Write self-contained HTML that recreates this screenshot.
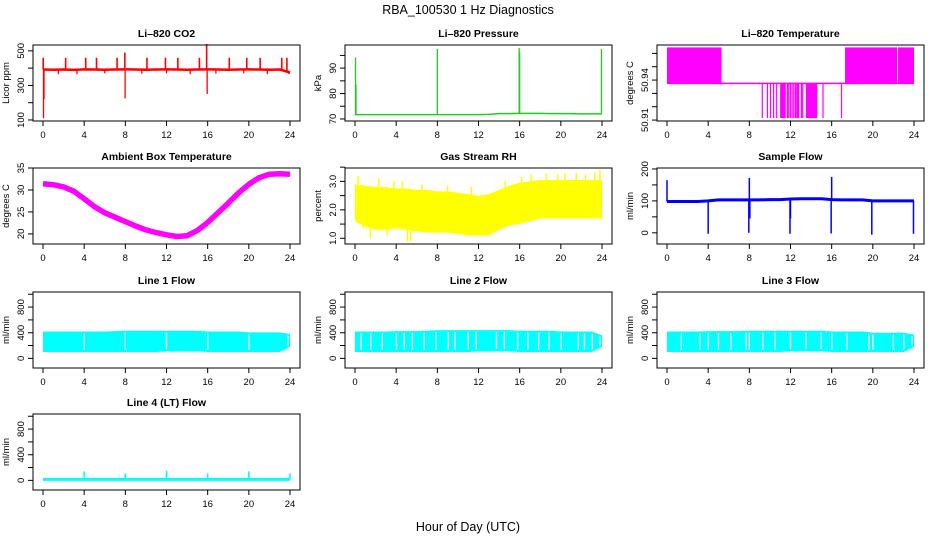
<!DOCTYPE html>
<html><head><meta charset="utf-8"><style>
html,body{margin:0;padding:0;background:#fff;}
svg{display:block;font-family:"Liberation Sans",Arial,sans-serif;}
</style></head><body>
<svg id="chart" width="936" height="540" viewBox="0 0 936 540" xmlns="http://www.w3.org/2000/svg">
<text x="468" y="14" text-anchor="middle" font-size="12.5">RBA_100530  1 Hz Diagnostics</text>
<text x="468" y="531" text-anchor="middle" font-size="12.5">Hour of Day (UTC)</text>
</svg>
<script>
const hours=[0,1,2,3,4,5,6,7,8,9,10,11,12,13,14,15,16,17,18,19,20,21,22,23,24];
const xTicks=[0,4,8,12,16,20,24];
// CO2
const co2Base=[392,391,392,390,393,392,391,392,393,392,391,392,393,392,391,392,393,392,391,392,393,392,391,392,375];
const co2SpikeHours=[0.02,2.2,4.15,5.2,7.2,7.95,10.1,11.9,13.1,15.2,15.9,18.1,19.8,21.1,23.2,23.7];
const co2SpikeTops=[460,460,460,460,460,490,460,460,460,460,540,460,460,460,460,460];
const co2DipHours=[0.05,0.1,7.98,15.95,1.5,3.3,6.0,9.6,12.0,14.3,16.8,19.5,21.8,23.9];
const co2DipBottoms=[110,220,225,250,365,365,370,368,370,365,368,370,365,365];
// Pressure
const pressBase=[71.7,71.7,71.7,71.7,71.7,71.7,71.7,71.7,71.7,71.7,71.7,71.7,71.7,71.8,72.1,72.1,72.2,72.2,72.2,72.1,72.1,72.1,72.0,72.0,72.0];
const pressSpikeHours=[0.05,0.1,8.0,15.95,16.0,23.95];
const pressSpikeTops=[94.2,83.5,97.5,98.0,96.5,97.5];
// Li-820 temperature
const tempHigh=50.9645, tempMid=50.9375, tempLow=50.9115;
const tempBlockStart=[0,17.3,22.45];
const tempBlockEnd=[5.3,22.35,24];
const tempDipStart=[9.2,9.7,10.0,10.3,10.6,10.99,11.64,11.77,11.93,12.1,12.26,12.42,12.55,13.0,13.13,13.49,15.1,16.9];
const tempDipEnd=[9.25,9.75,10.05,10.35,10.65,11.54,11.69,11.82,11.98,12.15,12.31,12.47,12.84,13.05,13.18,14.6,15.2,16.95];
// Ambient box temperature
const ambTemp=[31.4,31.2,30.7,29.7,28.0,26.2,24.8,23.8,22.8,21.8,20.9,20.3,19.8,19.4,19.6,20.8,22.6,24.8,27.0,29.3,31.3,32.8,33.6,33.7,33.6];
// Gas stream RH
const rhUpper=[2.9,2.85,2.8,2.8,2.75,2.75,2.7,2.7,2.65,2.65,2.6,2.55,2.5,2.55,2.7,2.85,2.95,3.0,3.05,3.05,3.05,3.05,3.05,3.05,3.05];
const rhLower=[1.6,1.4,1.3,1.3,1.35,1.3,1.25,1.2,1.2,1.2,1.15,1.1,1.1,1.1,1.3,1.45,1.5,1.6,1.7,1.7,1.7,1.7,1.7,1.7,1.7];
const rhSpikeHours=[0.3,0.8,1.5,2.3,3.1,3.8,4.6,5.1,5.4,6.5,9.0,11.3,14.6,16.2,17.1,18.6,19.7,20.4,21.5,22.4,23.3,23.8];
const rhSpikeVals=[3.2,1.35,1.0,3.1,1.1,3.0,3.0,0.9,0.9,2.9,2.85,2.8,3.0,3.15,3.25,3.3,3.25,3.3,3.3,3.25,3.3,3.4];
// Sample flow
const flowBase=[98,98,98,98,100,103,103,103,103,103,104,104,106,107,107,107,104,103,103,103,100,100,100,100,100];
const flowDipHours=[4.0,7.95,8.05,11.95,12.0,15.95,19.9,23.95];
const flowDipVals=[-3,0,45,-3,45,-2,-6,-3];
const flowSpikeHours=[0.0,8.0,16.0];
const flowSpikeVals=[165,172,175];
// Line flows
const line1Upper=[420,420,420,420,420,420,420,425,430,430,430,430,430,430,430,430,420,420,420,420,405,405,405,405,380];
const line2Upper=[420,420,420,420,425,425,425,430,440,440,440,440,440,440,440,440,430,430,430,430,420,420,420,420,360];
const line3Upper=[420,420,420,420,425,425,425,425,430,430,430,430,430,430,430,430,420,420,420,420,400,400,400,400,370];
const lineLower=[100,100,100,100,100,100,100,100,100,100,100,100,110,110,110,110,100,100,100,100,100,100,100,100,180];
const line1Gaps=[4.0,8.0,12.0,16.0,20.0,23.8];
const line2Gaps=[0.58,1.52,2.65,4.03,4.78,5.58,6.72,7.85,9.07,9.72,11.0,11.78,13.75,14.52,15.8,16.78,17.84,18.84,20.04,21.7,22.3,23.07,23.8];
const line3Gaps=[1.4,3.2,4.0,5.0,6.2,7.7,8.0,9.3,10.5,12.0,13.5,15.0,16.0,17.5,19.6,20.0,22.0,23.0,23.8];
const line4Base=[15,15,15,15,15,15,15,15,15,15,15,15,15,15,15,15,15,15,15,15,15,15,15,15,15];
const line4SpikeHours=[4.0,8.0,12.0,16.0,20.0,24.0];
const line4SpikeVals=[140,110,150,110,140,110];

const NS="http://www.w3.org/2000/svg";
const svg=document.getElementById('chart');
const colL=[33,345,657], rowT=[45,168,292,414], W=267, H=76;
function mk(tag,attrs,parent){const e=document.createElementNS(NS,tag);for(const k in attrs)e.setAttribute(k,attrs[k]);(parent||svg).appendChild(e);return e;}

function panel(col,row,title,ylab,lo,hi,yticks,ylabels,name){
  const L=colL[col],T=rowT[row],B=T+H,R=L+W;
  const g=mk('g',{});
  
  
  const x=h=>L+10+h*(W-20)/24;
  const y=v=>B-(v-lo)/(hi-lo)*H;
  const t=mk('text',{x:(L+R)/2,y:T-8,'text-anchor':'middle','font-size':10.5,'font-weight':'bold'},g);
  t.textContent=title;
  
  
  const yl=mk('text',{x:0,y:0,'text-anchor':'middle','font-size':9.5,transform:`translate(${L-24},${(T+B)/2}) rotate(-90)`},g);
  yl.textContent=ylab;
  
  
  const xa=mk('g',{},g);
  
  
  mk('line',{x1:x(0),x2:x(24),y1:B,y2:B,stroke:'#000'},xa);
  xTicks.forEach(h=>{
    mk('line',{x1:x(h),x2:x(h),y1:B,y2:B+5,stroke:'#000'},xa);
    const tl=mk('text',{x:x(h),y:B+17,'text-anchor':'middle','font-size':9.5},xa);
    tl.textContent=h;
    
    
  });
  const ya=mk('g',{},g);
  
  
  mk('line',{x1:L,x2:L,y1:y(yticks[0]),y2:y(yticks[yticks.length-1]),stroke:'#000'},ya);
  yticks.forEach(v=>{mk('line',{x1:L-5,x2:L,y1:y(v),y2:y(v),stroke:'#000'},ya);});
  ylabels.forEach(v=>{
    const tl=mk('text',{x:0,y:0,'text-anchor':'middle','font-size':9.5,transform:`translate(${L-9},${y(+v)}) rotate(-90)`},ya);
    tl.textContent=v;
    
    
  });
  const d=mk('g',{},g);
  
  
  const box=mk('rect',{x:L,y:T,width:W,height:H,fill:'none',stroke:'#000'},g);
  
  
  return {x,y,d};
}
function poly(p,xs,ys,col,sw,name){
  const pts=xs.map((h,i)=>p.x(h).toFixed(1)+','+p.y(ys[i]).toFixed(1)).join(' ');
  const e=mk('polyline',{points:pts,fill:'none',stroke:col,'stroke-width':sw,'stroke-linejoin':'round'},p.d);
  
  
}
function vlines(p,hs,from,to,col,sw,name){
  hs.forEach((h,i)=>{
    const a=Array.isArray(from)?from[i]:from, b=Array.isArray(to)?to[i]:to;
    const e=mk('line',{x1:p.x(h),x2:p.x(h),y1:p.y(a),y2:p.y(b),stroke:col,'stroke-width':sw},p.d);
    
    
  });
}
function baseAt(arr,h){const i=Math.min(23,Math.floor(h));const f=h-i;return arr[i]*(1-f)+arr[i+1]*f;}

// CO2
let p=panel(0,0,'Li\u2013820 CO2','Licor ppm',94,534,[100,200,300,400,500],['100','300','500'],'co2');
poly(p,hours,co2Base,'#ff0000',2.5,'co2-line');
vlines(p,co2SpikeHours,co2SpikeHours.map(h=>baseAt(co2Base,h)),co2SpikeTops,'#ff0000',1.6,'co2-spike');
vlines(p,co2DipHours,co2DipHours.map(h=>baseAt(co2Base,h)),co2DipBottoms,'#ff0000',1.3,'co2-dip');

// Pressure
p=panel(1,0,'Li\u2013820 Pressure','kPa',69.2,99.1,[70,75,80,85,90,95],['70','80','90'],'pressure');
poly(p,hours,pressBase,'#22cc22',1.5,'pressure-line');
vlines(p,pressSpikeHours,pressSpikeHours.map(h=>baseAt(pressBase,h)),pressSpikeTops,'#22cc22',1.3,'pressure-spike');

// Li-820 temperature
p=panel(2,0,'Li\u2013820 Temperature','degrees C',50.9093,50.9663,[50.91,50.92,50.93,50.94,50.95,50.96],['50.91','50.94'],'li820-temp');
poly(p,[0,24],[tempMid,tempMid],'#ff00ff',1.5,'li820-temp-mid-line');
tempBlockStart.forEach((s,i)=>{
  const e=mk('rect',{x:p.x(s),y:p.y(tempHigh),width:p.x(tempBlockEnd[i])-p.x(s),height:p.y(tempMid)-p.y(tempHigh),fill:'#ff00ff'},p.d);
  
  
});
tempDipStart.forEach((s,i)=>{
  const w=Math.max(1.2,p.x(tempDipEnd[i])-p.x(s));
  const e=mk('rect',{x:p.x(s),y:p.y(tempMid),width:w,height:p.y(tempLow)-p.y(tempMid),fill:'#ff00ff'},p.d);
  
  
});

// Ambient
p=panel(0,1,'Ambient Box Temperature','degrees C',17.7,35,[20,25,30,35],['20','25','30','35'],'ambient-temp');
poly(p,hours,ambTemp,'#ff00ff',5.5,'ambient-temp-line');

// RH
p=panel(1,1,'Gas Stream RH','percent',0.8,3.47,[1.0,1.5,2.0,2.5,3.0,3.5],['1.0','2.0','3.0'],'rh');
{
  const pts=hours.map((h,i)=>p.x(h)+','+p.y(rhUpper[i])).concat(hours.slice().reverse().map((h,j)=>p.x(h)+','+p.y(rhLower[24-j]))).join(' ');
  const e=mk('polygon',{points:pts,fill:'#ffff00'},p.d);
  
  
}
vlines(p,rhSpikeHours,rhSpikeHours.map(h=>(baseAt(rhUpper,h)+baseAt(rhLower,h))/2),rhSpikeVals,'#ffff00',1.5,'rh-spike');

// Sample flow
p=panel(2,1,'Sample Flow','ml/min',-35,203,[0,50,100,150,200],['0','100','200'],'sample-flow');
poly(p,hours,flowBase,'#0000ff',3,'sample-flow-line');
vlines(p,flowDipHours,flowDipHours.map(h=>baseAt(flowBase,h)),flowDipVals,'#0000ff',1.5,'sample-flow-dip');
vlines(p,flowSpikeHours,flowSpikeHours.map(h=>baseAt(flowBase,h)),flowSpikeVals,'#0000ff',1.5,'sample-flow-spike');

// Line flows
function linePanel(col,row,title,upper,gaps,name){
  const q=panel(col,row,title,'ml/min',-150,1035,[0,200,400,600,800,1000],['0','400','800'],name);
  const pts=hours.map((h,i)=>q.x(h)+','+q.y(upper[i])).concat(hours.slice().reverse().map((h,j)=>q.x(h)+','+q.y(lineLower[24-j]))).join(' ');
  const e=mk('polygon',{points:pts,fill:'#00ffff'},q.d);
  
  
  vlines(q,gaps,gaps.map(h=>baseAt(lineLower,h)+35),gaps.map(h=>baseAt(upper,h)-30),'#ffffff',1.3,name+'-gap');
}
linePanel(0,2,'Line 1 Flow',line1Upper,line1Gaps,'line1-flow');
linePanel(1,2,'Line 2 Flow',line2Upper,line2Gaps,'line2-flow');
linePanel(2,2,'Line 3 Flow',line3Upper,line3Gaps,'line3-flow');

p=panel(0,3,'Line 4 (LT) Flow','ml/min',-150,1035,[0,200,400,600,800,1000],['0','400','800'],'line4-flow');
poly(p,hours,line4Base,'#00ffff',3,'line4-flow-line');
vlines(p,line4SpikeHours,line4SpikeHours.map(h=>baseAt(line4Base,h)),line4SpikeVals,'#00ffff',1.6,'line4-flow-spike');
</script>
</body></html>
